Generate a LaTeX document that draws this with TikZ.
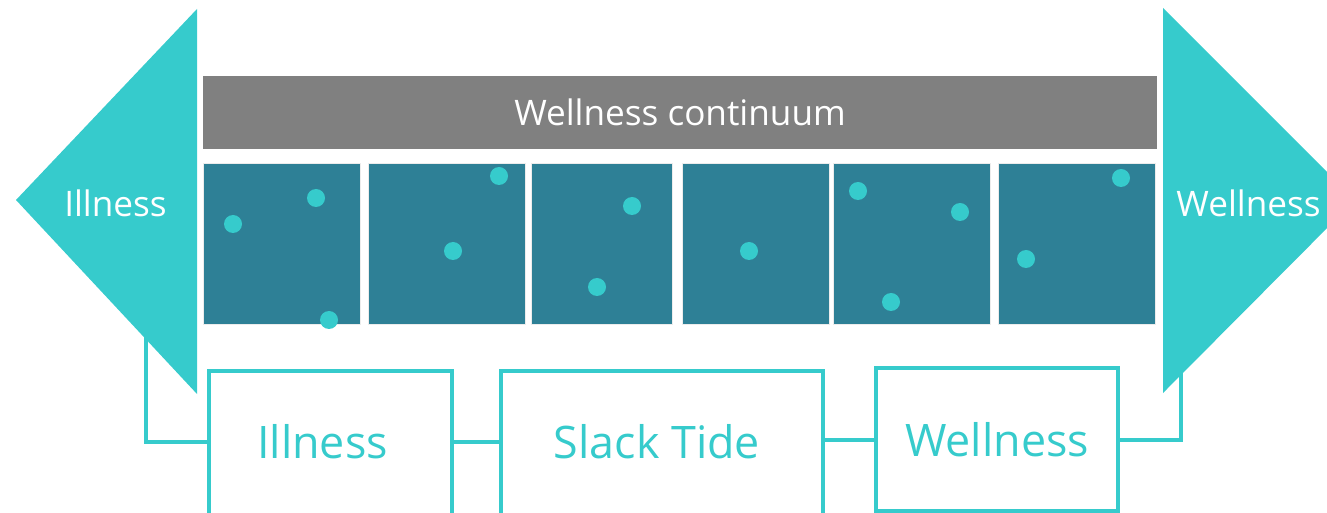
\documentclass[tikz,border=0pt]{standalone}
\usepackage{fontspec}
\setmainfont{Open Sans}
\usetikzlibrary{positioning}
\definecolor{tealdark}{RGB}{46,128,150}
\definecolor{aqua}{RGB}{54,203,204}
\definecolor{bargray}{RGB}{128,128,128}

\tikzset{
	cell/.style={draw=gray!15, line width=0.4pt, fill=tealdark, inner sep=0pt, minimum height=3.22cm},
	stage/.style={draw=aqua, line width=2pt, fill=white, inner sep=0pt, outer sep=0pt},
	stagetext/.style={text=aqua, font=\fontsize{25.5}{30}\selectfont},
	link/.style={draw=aqua, line width=2pt},
	dot/.style={fill=aqua}
}

\begin{document}
\begin{tikzpicture}
	\useasboundingbox (0,0) rectangle (26.54,-10.26);
	\clip (0,0) rectangle (26.54,-10.26);

	\node (bar) at (13.6,-2.25) [fill=bargray, minimum width=19.08cm, minimum height=1.46cm, inner sep=0pt, text=white, font=\fontsize{20}{24}\selectfont] {Wellness continuum};

	\node (c1) at (5.63,-4.87) [cell, minimum width=3.14cm] {};
	\node (c2) at (8.93,-4.87) [cell, minimum width=3.14cm] {};
	\node (c3) at (12.03,-4.87) [cell, minimum width=2.82cm] {};
	\node (c4) at (15.11,-4.87) [cell, minimum width=2.94cm] {};
	\node (c5) at (18.23,-4.87) [cell, minimum width=3.14cm] {};
	\node (c6) at (21.53,-4.87) [cell, minimum width=3.14cm] {};

	% dots in the cells
	\foreach \p in {(4.66,-4.48),(6.32,-3.96),(6.58,-6.40),(9.98,-3.52),(9.06,-5.02),(12.64,-4.12),(11.94,-5.74),(14.98,-5.02),(17.16,-3.82),(19.20,-4.24),(17.82,-6.04),(22.42,-3.56),(20.52,-5.18)}
		\fill[dot] \p circle (0.18);

	\node (illbox) at (6.61,-9.11) [stage, minimum width=4.86cm, minimum height=3.38cm] {};
	\node (slackbox) at (13.24,-9.11) [stage, minimum width=6.44cm, minimum height=3.38cm] {};
	\node (wellbox) at (19.94,-8.79) [stage, minimum width=4.84cm, minimum height=2.86cm] {};

	\node (illtxt) at (6.45,-8.84) [stagetext] {Illness};
	\node (slacktxt) at (13.14,-8.84) [stagetext] {Slack Tide};
	\node (welltxt) at (19.94,-8.80) [stagetext] {Wellness};

	\coordinate (lhook) at (2.92,-6.5);
	\coordinate (rhook) at (23.62,-7.2);

	\draw[link] (illbox.west |- illtxt) -| (lhook);
	\draw[link] (illbox.east |- illtxt) -- (slackbox.west |- illtxt);
	\draw[link] (slackbox.east |- welltxt) -- (wellbox.west |- welltxt);
	\draw[link] (wellbox.east |- welltxt) -| (rhook);

	% arrows at both ends
	\fill[aqua] (0.32,-4.0) -- (3.94,-0.18) -- (3.94,-7.88) -- cycle;
	\fill[aqua] (23.26,-0.16) -- (27.1,-4.0) -- (23.26,-7.86) -- cycle;
	\node (illend) at (2.31,-4.06) [text=white, font=\fontsize{20}{24}\selectfont] {Illness};
	\node (wellend) at (24.97,-4.06) [text=white, font=\fontsize{20}{24}\selectfont] {Wellness};

\end{tikzpicture}
\end{document}
